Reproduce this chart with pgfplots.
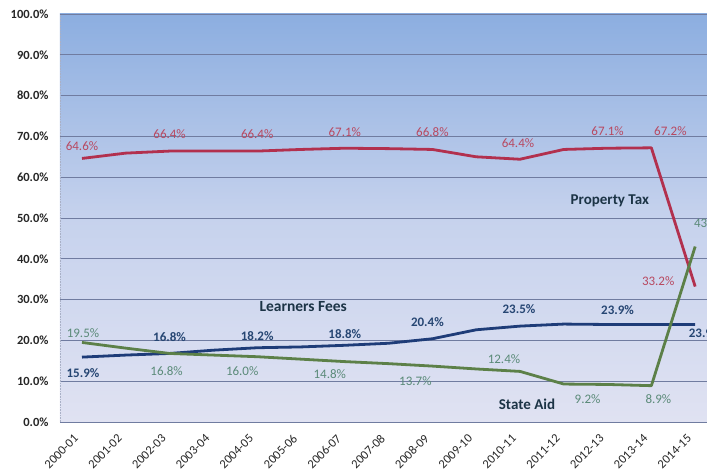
\documentclass[border=0pt]{standalone}
\usepackage{pgfplots}
\usepackage{pgfplotstable}
\pgfplotsset{compat=1.18}
\usepackage{fontspec}
\setmainfont{Carlito}
\definecolor{ptline}{RGB}{178,48,78}
\definecolor{lfline}{RGB}{30,60,120}
\definecolor{saline}{RGB}{92,128,72}
\definecolor{ptlab}{RGB}{184,72,96}
\definecolor{lflab}{RGB}{38,70,115}
\definecolor{salab}{RGB}{90,138,120}
\definecolor{namecol}{RGB}{28,52,70}
\definecolor{gridc}{RGB}{112,124,160}
\definecolor{bgtop}{RGB}{140,174,224}
\definecolor{bgmid}{RGB}{198,210,237}
\definecolor{bgbot}{RGB}{224,226,242}

\pgfplotstableread{
x y
0 64.6
1 65.9
2 66.4
3 66.4
4 66.4
5 66.8
6 67.1
7 67.0
8 66.8
9 65.0
10 64.4
11 66.8
12 67.1
13 67.2
14 33.2
}\ptdata
\pgfplotstableread{
x y
0 15.9
1 16.4
2 16.8
3 17.6
4 18.2
5 18.4
6 18.8
7 19.3
8 20.4
9 22.6
10 23.5
11 24.0
12 23.9
13 23.9
14 23.9
}\lfdata
\pgfplotstableread{
x y
0 19.5
1 18.1
2 16.8
3 16.4
4 16.0
5 15.4
6 14.8
7 14.3
8 13.7
9 13.0
10 12.4
11 9.3
12 9.2
13 8.9
14 43.0
}\sadata
\pgfplotstableread{
x y dx dy
0 64.6 0 12
2 66.4 0 17
4 66.4 0 17
6 67.1 0 16
8 66.8 0 17
10 64.4 -2 16
12 67.1 0 17
13 67.2 19 17
14 33.2 -37 5
}\ptlabels
\pgfplotstableread{
x y dx dy
0 15.9 1 -16
2 16.8 0 16
4 18.2 0 12
6 18.8 0 11
8 20.4 -5 17
10 23.5 -1 17
12 23.9 10 14
14 23.9 10 -9
}\lflabels
\pgfplotstableread{
x y dx dy
0 19.5 1 9
2 16.8 -3 -18
4 16.0 -15 -14
6 14.8 -15 -13
8 13.7 -17 -15
10 12.4 -16 12
12 9.2 -20 -15
13 8.9 7 -13
14 43.0 15 23
}\salabels

\begin{document}
\begin{tikzpicture}
\path[use as bounding box] (-60pt,-51pt) rectangle (647pt,422pt);
\begin{axis}[
  at={(0,0)}, anchor=south west,
  scale only axis,
  width=647pt, height=408pt,
  xmin=-0.502, xmax=14.27,
  ymin=0, ymax=100,
  clip=false,
  axis background/.style={shade, top color=bgtop, bottom color=bgbot, middle color=bgmid},
  axis line style={draw=none},
  ymajorgrids,
  grid style={color=gridc, line width=0.6pt},
  major tick length=0pt,
  ytick={0,10,...,100},
  yticklabel={\pgfmathprintnumber[fixed,fixed zerofill,precision=1]{\tick}\%},
  /pgf/number format/assume math mode=true,
  yticklabel style={font=\fontsize{12.5}{14}\selectfont\bfseries, color=black!85, anchor=east, xshift=-8pt},
  xtick={0,...,14},
  xticklabels={2000-01,2001-02,2002-03,2003-04,2004-05,2005-06,2006-07,2007-08,2008-09,2009-10,2010-11,2011-12,2012-13,2013-14,2014-15},
  xticklabel style={font=\fontsize{12.5}{14}\selectfont, color=black!85, rotate=45, anchor=north east, yshift=1.5pt, xshift=-11pt},
]
\draw[densely dotted, color=gridc!60, line width=0.6pt] (axis cs:-0.502,0) -- (axis cs:-0.502,100);
\addplot[ptline, line width=2.8pt, mark=none, line join=round] table[x=x,y=y]{\ptdata};
\addplot[lfline, line width=2.8pt, mark=none, line join=round] table[x=x,y=y]{\lfdata};
\addplot[saline, line width=2.8pt, mark=none, line join=round] table[x=x,y=y]{\sadata};

\addplot[draw=none, mark=none, point meta=explicit,
  visualization depends on={\thisrow{dx}\as\dx},
  visualization depends on={\thisrow{dy}\as\dy},
  nodes near coords={\pgfmathprintnumber[fixed,fixed zerofill,precision=1]{\pgfplotspointmeta}\%},
  nodes near coords style={anchor=center, xshift=\dx pt, yshift=\dy pt, font=\fontsize{13}{15}\selectfont, text=ptlab, inner sep=0pt}]
  table[x=x,y=y,meta=y]{\ptlabels};
\addplot[draw=none, mark=none, point meta=explicit,
  visualization depends on={\thisrow{dx}\as\dx},
  visualization depends on={\thisrow{dy}\as\dy},
  nodes near coords={\pgfmathprintnumber[fixed,fixed zerofill,precision=1]{\pgfplotspointmeta}\%},
  nodes near coords style={anchor=center, xshift=\dx pt, yshift=\dy pt, font=\fontsize{13}{15}\selectfont\bfseries, text=lflab, inner sep=0pt}]
  table[x=x,y=y,meta=y]{\lflabels};
\addplot[draw=none, mark=none, point meta=explicit,
  visualization depends on={\thisrow{dx}\as\dx},
  visualization depends on={\thisrow{dy}\as\dy},
  nodes near coords={\pgfmathprintnumber[fixed,fixed zerofill,precision=1]{\pgfplotspointmeta}\%},
  nodes near coords style={anchor=center, xshift=\dx pt, yshift=\dy pt, font=\fontsize{13}{15}\selectfont, text=salab, inner sep=0pt}]
  table[x=x,y=y,meta=y]{\salabels};

\node[font=\fontsize{15.5}{17}\selectfont\bfseries, text=namecol] at (axis cs:5.05,28.2) {Learners Fees};
\node[font=\fontsize{15}{17}\selectfont\bfseries, text=namecol] at (axis cs:12.05,54.2) {Property Tax};
\node[font=\fontsize{15}{17}\selectfont\bfseries, text=namecol] at (axis cs:10.16,4.4) {State Aid};
\end{axis}
\end{tikzpicture}
\end{document}
